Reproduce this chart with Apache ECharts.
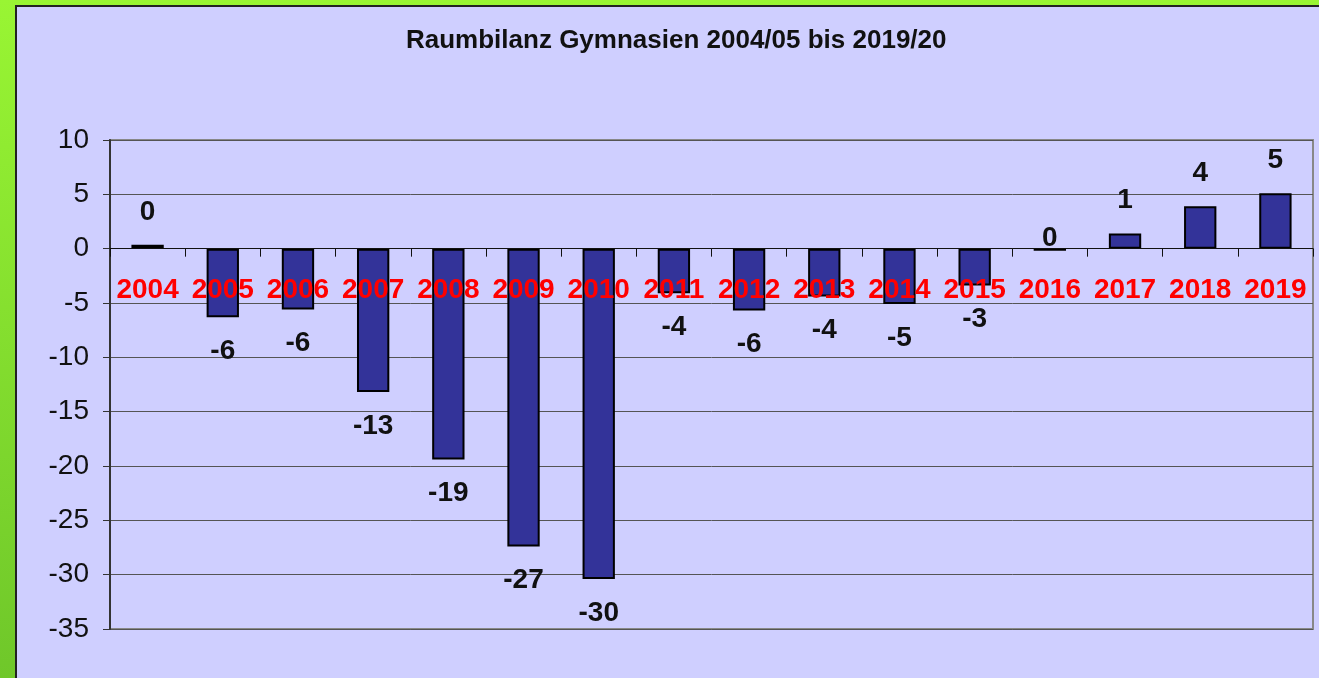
<!DOCTYPE html>
<html>
<head>
<meta charset="utf-8">
<script src="https://cdn.jsdelivr.net/npm/echarts@6/dist/echarts.min.js"></script>
<style>
html, body { margin: 0; padding: 0; }
body { width: 1319px; height: 678px; background: linear-gradient(#99f533, #6fc72a); position: relative; overflow: hidden; }
#chart { position: absolute; left: 15px; top: 5px; width: 1304px; height: 673px; box-sizing: border-box;
  border-left: 2px solid #222; border-top: 2px solid #222; background: #cfcfff; }
</style>
</head>
<body>
<div id="chart"></div>
<script>
// Schuljahre (Beginn) und Raumbilanz
const years = ['2004', '2005', '2006', '2007', '2008', '2009', '2010', '2011',
    '2012', '2013', '2014', '2015', '2016', '2017', '2018', '2019'];
const balance = [0.35, -6.3, -5.6, -13.2, -19.4, -27.4, -30.4, -4.1,
    -5.7, -4.4, -5.1, -3.4, -0.2, 1.4, 3.9, 5.1];
const yMin = -35;
const yMax = 10;
const yStep = 5;

let chartDom = document.getElementById('chart');
let myChart = echarts.init(chartDom);

const gridTop = 133
const gridBottom = 49
let gridHeight = chartDom.clientHeight - gridTop - gridBottom
// x-Achse samt Beschriftung auf die Nulllinie schieben
let zeroOffset = -gridHeight * (0 - yMin) / (yMax - yMin)

let barData = balance.map((v, i) => {
    let item = {value: v, label: v >= 0 ? {position: 'top', distance: 19} : {position: 'bottom', distance: 20}}
    if (years[i] === '2016') {
        // Excel hat hier das Label direkt auf die Achse gesetzt
        item.label = {position: 'top', distance: -4}
    }
    return item
});

let option = {
    animation: false,
    title: {
        text: 'Raumbilanz Gymnasien 2004/05 bis 2019/20',
        left: 389,
        top: 21,
        padding: 0,
        textStyle: {fontFamily: 'Liberation Sans, Arial', fontSize: 26, fontWeight: 'bold', color: '#111'}
    },
    grid: {
        left: 93, right: 6, top: gridTop, bottom: gridBottom,
        show: true, borderColor: '#888', borderWidth: 2, backgroundColor: 'transparent'
    },
    xAxis: {
        type: 'category',
        data: years,
        z: 5,
        position: 'bottom',
        offset: zeroOffset,
        axisLine: {onZero: false, lineStyle: {color: '#111', width: 1}},
        axisTick: {show: true, length: 8, lineStyle: {color: '#111'}},
        axisLabel: {
            margin: 28, color: '#ff0000', fontFamily: 'Liberation Sans, Arial',
            fontSize: 28, fontWeight: 'bold', interval: 0
        },
        splitLine: {show: false}
    },
    yAxis: {
        type: 'value',
        min: yMin, max: yMax, interval: yStep,
        axisLine: {show: true, lineStyle: {color: '#333', width: 2}},
        axisTick: {show: true, length: 7, lineStyle: {color: '#333'}},
        axisLabel: {margin: 21, color: '#111', fontFamily: 'Liberation Sans, Arial', fontSize: 28},
        splitLine: {show: true, lineStyle: {color: '#555', width: 1}}
    },
    series: [{
        type: 'bar',
        data: barData,
        barWidth: '43%',
        itemStyle: {color: '#333399', borderColor: '#000', borderWidth: 2},
        label: {
            show: true,
            color: '#111',
            fontFamily: 'Liberation Sans, Arial',
            fontSize: 28,
            fontWeight: 'bold',
            formatter: (p) => String(Math.round(p.value))
        }
    }]
};
myChart.setOption(option);
</script>
</body>
</html>
